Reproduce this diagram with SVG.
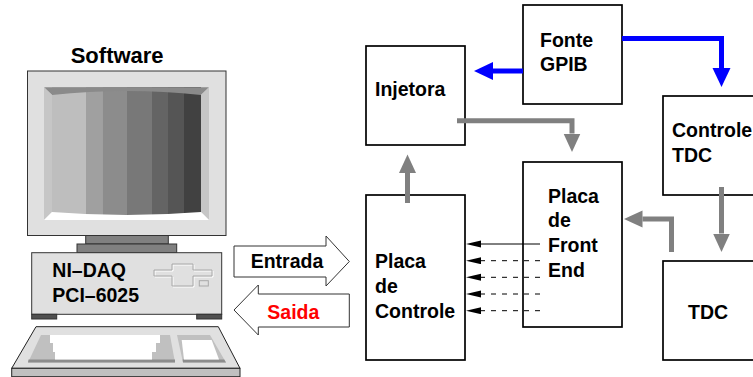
<svg xmlns="http://www.w3.org/2000/svg" width="753" height="377" viewBox="0 0 753 377">
  <style>
    .box { fill: #ffffff; stroke: #000000; stroke-width: 1.7; }
    .lbl { font-family: "Liberation Sans", Arial, sans-serif; font-weight: bold; font-size: 19.5px; fill: #000000; }
    .gray { fill: none; stroke: #808080; stroke-width: 5; stroke-linejoin: miter; }
    .blue { fill: none; stroke: #0000ff; stroke-width: 5; stroke-linejoin: miter; }
    .sig { fill: none; stroke: #000000; stroke-width: 1; }
    .dash { stroke-dasharray: 5 6; }
    .pc { stroke: #333333; stroke-width: 1; }
    .flat { fill: #ffffff; stroke: #333333; stroke-width: 1; }
  </style>
  <defs>
    <marker id="headGray" markerUnits="userSpaceOnUse" markerWidth="20" markerHeight="18" refX="0" refY="8.5" orient="auto">
      <path d="M0,0 L18.5,8.5 L0,17 Z" fill="#808080"/>
    </marker>
    <marker id="headBlue" markerUnits="userSpaceOnUse" markerWidth="20" markerHeight="19" refX="0" refY="9" orient="auto">
      <path d="M0,0 L19,9 L0,18 Z" fill="#0000ff"/>
    </marker>
    <marker id="headBlack" markerUnits="userSpaceOnUse" markerWidth="16" markerHeight="8" refX="0" refY="3.5" orient="auto">
      <path d="M0,0 L15,3.5 L0,7 Z" fill="#000000"/>
    </marker>
  </defs>

  <!-- workstation: monitor, case and keyboard -->
  <g id="computer">
    <text class="lbl" x="70.7" y="62.7" style="font-size:22px">Software</text>
    <!-- monitor -->
    <rect x="27.5" y="71" width="198.5" height="164.5" fill="#e0e0e0" class="pc"/>
    <rect x="52" y="87" width="21" height="133" fill="#bebebe"/>
    <rect x="73" y="87" width="13" height="133" fill="#bebebe"/>
    <rect x="86" y="87" width="16.3" height="133" fill="#a0a0a0"/>
    <rect x="102.3" y="87" width="24.7" height="133" fill="#8c8c8c"/>
    <rect x="127" y="87" width="25" height="133" fill="#787878"/>
    <rect x="152" y="87" width="16" height="133" fill="#646464"/>
    <rect x="168" y="87" width="16" height="133" fill="#555555"/>
    <rect x="184" y="87" width="17" height="133" fill="#414141"/>
    <path d="M44,87.3 H209 L201,95 Q126.5,87 52,95 Z" fill="#8a8a8a"/>
    <path d="M44,87.3 L52,95 V212 L44,220 Z" fill="#c6c6c6"/>
    <path d="M209,87.3 L201,95 V212 L209,220 Z" fill="#c6c6c6"/>
    <path d="M44,220 H209 L201,212 Q126.5,218 52,212 Z" fill="#ffffff"/>
    <!-- stand -->
    <rect x="85.7" y="235.5" width="82.6" height="8.5" fill="#808080" class="pc"/>
    <rect x="77" y="244" width="99.7" height="8.7" fill="#808080" class="pc"/>
    <!-- case -->
    <rect x="31.7" y="252.7" width="190" height="61.6" fill="#e0e0e0" class="pc"/>
    <rect x="31.7" y="314.3" width="25" height="4.7" fill="#505050" class="pc"/>
    <rect x="196.7" y="314.3" width="25" height="4.7" fill="#505050" class="pc"/>
    <path d="M155,271 H173 V265 H194 V271 H213 V277 H194 V287 H173 V277 H155 Z" fill="none" stroke="#ffffff" stroke-width="1"/>
    <path d="M154,270 H172 V264 H193 V270 H212 V276 H193 V286 H172 V276 H154 Z" fill="none" stroke="#a8a8a8" stroke-width="1"/>
    <rect x="199.3" y="280.7" width="9" height="5.3" fill="none" stroke="#a8a8a8" stroke-width="1"/>
    <text class="lbl" x="52.3" y="276.7">NI–DAQ</text>
    <text class="lbl" x="52.3" y="301.7">PCI–6025</text>
    <!-- keyboard -->
    <path d="M36,326.7 H218.3 L240,368.3 H11.7 Z" fill="#e0e0e0" stroke="#222222" stroke-width="1"/>
    <rect x="11.7" y="368.3" width="228.3" height="8.4" fill="#c0c0c0" stroke="#222222" stroke-width="1"/>
    <path d="M41,335 H170 L175,362.5 H28 Z" fill="#c0c0c0"/>
    <path d="M28.5,359.5 H175 V362.5 H28 Z" fill="#8c8c8c"/>
    <path d="M50,335 H160 V343 H156 V352 H152 V359.5 H55 V352 H53 V343 H50 Z" fill="#ffffff"/>
    <path d="M177,335 H210 L226,362.5 H183 Z" fill="#c0c0c0"/>
    <path d="M182.6,359.5 H224.2 L226,362.5 H183 Z" fill="#8c8c8c"/>
    <path d="M181.7,340 H211.7 L219,359.5 H184 Z" fill="#ffffff"/>
  </g>

  <!-- data-direction arrows between computer and control board -->
  <g id="entrada">
    <path d="M234,246 H326 V236 L349.3,261.5 L326,286 V277 H234 Z" class="flat"/>
    <text class="lbl" x="250.7" y="268.3">Entrada</text>
  </g>
  <g id="saida">
    <path d="M349.3,294 H258.3 V285 L234,310 L258.3,335 V327 H349.3 Z" class="flat"/>
    <text class="lbl" x="267.3" y="319" style="fill:#ff0000">Saida</text>
  </g>

  <g id="injetora">
    <rect class="box" x="366" y="46" width="99" height="99"/>
    <text class="lbl" x="375" y="95.7">Injetora</text>
  </g>
  <g id="fonte-gpib">
    <rect class="box" x="523" y="5" width="99" height="99"/>
    <text class="lbl" x="540" y="46.7">Fonte</text>
    <text class="lbl" x="540" y="70.7">GPIB</text>
  </g>
  <g id="controle-tdc">
    <rect class="box" x="663" y="96" width="100" height="99"/>
    <text class="lbl" x="672" y="137.3">Controle</text>
    <text class="lbl" x="672" y="161.7">TDC</text>
  </g>
  <g id="tdc">
    <rect class="box" x="663" y="261" width="100" height="99"/>
    <text class="lbl" x="688" y="319">TDC</text>
  </g>
  <g id="placa-front-end">
    <rect class="box" x="523" y="162" width="99" height="165"/>
    <text class="lbl" x="548" y="202.7">Placa</text>
    <text class="lbl" x="548" y="226.7">de</text>
    <text class="lbl" x="548" y="252.3">Front</text>
    <text class="lbl" x="548" y="277.3">End</text>
  </g>
  <g id="placa-controle">
    <rect class="box" x="366" y="195" width="99" height="165"/>
    <text class="lbl" x="375" y="268.3">Placa</text>
    <text class="lbl" x="375" y="293.3">de</text>
    <text class="lbl" x="375" y="318.3">Controle</text>
  </g>

  <g id="connectors">
    <path class="gray" d="M457,120.7 H572 V133.5" marker-end="url(#headGray)"/>
    <path class="gray" d="M407.5,203 V173" marker-end="url(#headGray)"/>
    <path class="gray" d="M721.5,187 V233.5" marker-end="url(#headGray)"/>
    <path class="gray" d="M671.5,252 V219 H642.5" marker-end="url(#headGray)"/>
    <path class="blue" d="M523,71 H493" marker-end="url(#headBlue)"/>
    <path class="blue" d="M622,38.5 H721.5 V68" marker-end="url(#headBlue)"/>
    <path class="sig" d="M540,244 H481" marker-end="url(#headBlack)"/>
    <path class="sig dash" d="M540,260.7 H481" marker-end="url(#headBlack)"/>
    <path class="sig dash" d="M540,277.3 H481" marker-end="url(#headBlack)"/>
    <path class="sig dash" d="M540,294 H481" marker-end="url(#headBlack)"/>
    <path class="sig dash" d="M540,310.7 H481" marker-end="url(#headBlack)"/>
  </g>
</svg>
